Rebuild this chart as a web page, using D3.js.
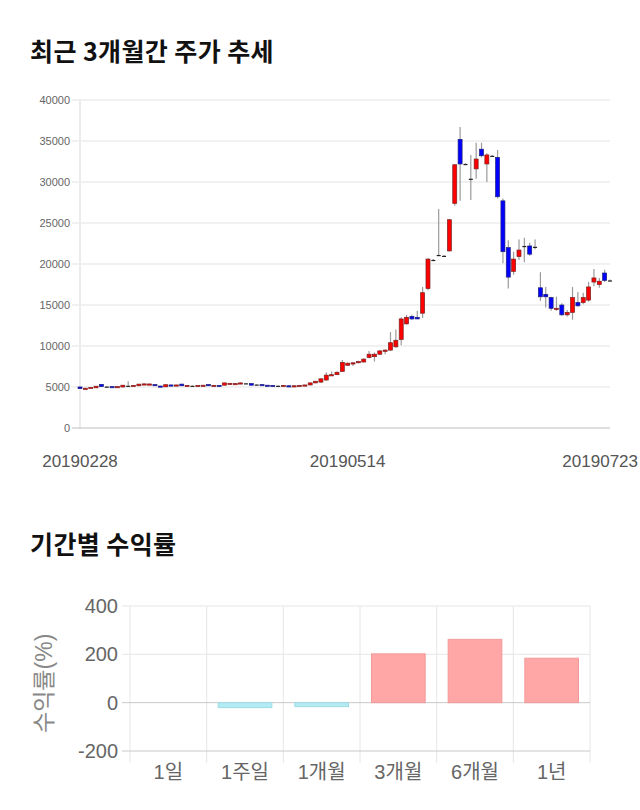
<!DOCTYPE html>
<html>
<head>
<meta charset="utf-8">
<script src="https://cdn.jsdelivr.net/npm/d3@7"></script>
<style>
  body { margin: 0; background: #fff; }
  svg { display: block; font-family: "Liberation Sans", "Noto Sans CJK KR", sans-serif; }
  .titre { font-family: "Noto Sans CJK KR", sans-serif; font-weight: bold; font-size: 25px; letter-spacing: 0.4px; fill: #111; }
</style>
</head>
<body>
<svg id="viz" width="640" height="810"></svg>
<script>
// dates de bourse (catégories)
const dates = [
  '20190228',
  '20190304','20190305','20190306','20190307','20190308','20190311','20190312','20190313','20190314','20190315',
  '20190318','20190319','20190320','20190321','20190322','20190325','20190326','20190327','20190328','20190329',
  '20190401','20190402','20190403','20190404','20190405','20190408','20190409','20190410','20190411','20190412',
  '20190415','20190416','20190417','20190418','20190419','20190422','20190423','20190424','20190425','20190426',
  '20190429','20190430',
  '20190502','20190503','20190507','20190508','20190509','20190510','20190513','20190514','20190515','20190516',
  '20190517','20190520','20190521','20190522','20190523','20190524','20190527','20190528','20190529','20190530','20190531',
  '20190603','20190604','20190605','20190607','20190610','20190611','20190612','20190613','20190614','20190617',
  '20190618','20190619','20190620','20190621','20190624','20190625','20190626','20190627','20190628',
  '20190701','20190702','20190703','20190704','20190705','20190708','20190709','20190710','20190711','20190712',
  '20190715','20190716','20190717','20190718','20190719','20190722','20190723'
]

// prix (milliers de wons)
const opens = [
  5.0, 4.78, 4.9, 4.9, 5.32, 5.05, 5.05, 5.0, 5.0, 5.15,
  5.18, 5.15, 5.35, 5.33, 5.3, 5.12, 5.02, 5.25, 5.22, 5.35,
  5.1, 5.15, 5.1, 5.18, 5.3, 5.18, 5.2, 5.22, 5.38, 5.4,
  5.42, 5.45, 5.42, 5.3, 5.3, 5.22, 5.2, 5.15, 5.18, 5.15,
  5.12, 5.15, 5.2, 5.25, 5.5, 5.6, 5.85, 6.45, 6.5, 6.9,
  7.65, 7.9, 8.0, 8.05, 8.6, 8.7, 9.0, 9.35, 9.5, 9.9,
  10.8, 12.7, 13.6, 13.5, 14.0, 17.0, 20.5, 21.1, 21.0, 21.6,
  27.4, 35.2, 32.2, 30.4, 31.6, 34.0, 32.2, 33.2, 33.0, 27.7,
  22.0, 19.1, 20.9, 22.2, 22.2, 22.1, 17.1, 16.3, 15.9, 14.5,
  15.0, 13.8, 14.1, 15.3, 15.3, 15.6, 17.8, 17.5, 18.9, 18.0
]
const highs = [
  5.05, 4.9, 4.97, 5.12, 5.38, 5.1, 5.08, 5.08, 5.25, 5.7,
  5.25, 5.38, 5.42, 5.4, 5.35, 5.15, 5.3, 5.3, 5.28, 5.4,
  5.22, 5.2, 5.22, 5.25, 5.32, 5.25, 5.25, 5.52, 5.48, 5.48,
  5.55, 5.5, 5.45, 5.35, 5.32, 5.25, 5.25, 5.2, 5.25, 5.2,
  5.2, 5.22, 5.28, 5.55, 5.75, 6.05, 6.8, 6.9, 6.9, 8.3,
  8.0, 8.05, 8.2, 8.5, 9.4, 9.2, 9.5, 9.6, 11.7, 12.0,
  13.5, 13.8, 13.8, 14.3, 17.2, 20.7, 20.6, 26.7, 21.1, 25.5,
  32.2, 36.7, 32.3, 33.3, 34.8, 34.8, 33.5, 33.3, 33.9, 28.0,
  22.9, 21.5, 23.0, 23.2, 22.6, 23.0, 19.0, 17.2, 16.0, 16.0,
  15.2, 14.4, 17.2, 16.6, 16.5, 17.8, 19.4, 18.3, 19.3, 18.1
]
const lows = [
  4.75, 4.75, 4.88, 4.88, 5.0, 5.0, 4.95, 4.98, 4.98, 5.1,
  5.15, 5.12, 5.3, 5.3, 5.12, 5.05, 5.0, 5.18, 5.18, 5.12,
  5.05, 5.1, 5.08, 5.15, 5.12, 5.15, 5.15, 5.2, 5.35, 5.38,
  5.4, 5.4, 5.2, 5.25, 5.2, 5.15, 5.15, 5.1, 5.12, 5.08,
  5.1, 5.12, 5.18, 5.22, 5.45, 5.5, 5.8, 6.4, 6.45, 6.85,
  7.55, 7.55, 7.9, 8.0, 8.5, 8.1, 8.9, 9.0, 9.4, 9.8,
  10.1, 12.6, 13.2, 13.3, 13.4, 16.8, 20.4, 21.0, 20.9, 21.5,
  27.1, 27.7, 32.1, 27.8, 30.4, 33.0, 30.0, 33.1, 28.0, 20.1,
  17.0, 18.7, 20.5, 20.2, 21.0, 21.8, 15.5, 14.7, 14.3, 14.3,
  13.7, 13.6, 13.2, 14.8, 15.1, 15.4, 17.3, 17.1, 17.8, 17.9
]
const closes = [
  4.8, 4.85, 4.95, 5.1, 5.05, 5.05, 4.98, 5.05, 5.22, 5.15,
  5.2, 5.35, 5.38, 5.37, 5.15, 5.1, 5.28, 5.22, 5.25, 5.15,
  5.2, 5.15, 5.2, 5.22, 5.15, 5.2, 5.18, 5.5, 5.45, 5.42,
  5.5, 5.45, 5.22, 5.3, 5.22, 5.2, 5.18, 5.15, 5.2, 5.12,
  5.15, 5.2, 5.25, 5.5, 5.7, 6.0, 6.45, 6.5, 6.8, 8.0,
  7.9, 7.95, 8.1, 8.4, 9.0, 9.0, 9.4, 9.5, 10.4, 10.7,
  13.3, 13.5, 13.3, 13.3, 16.5, 20.6, 20.5, 21.1, 21.0, 25.4,
  32.1, 32.2, 32.2, 30.4, 32.8, 33.2, 33.3, 33.2, 28.2, 21.5,
  18.4, 20.6, 21.7, 22.2, 21.2, 22.1, 16.0, 16.0, 14.6, 14.6,
  13.8, 14.1, 15.9, 14.9, 15.9, 17.2, 18.3, 17.9, 18.0, 18.0
]
const priceTicks = [0, 5000, 10000, 15000, 20000, 25000, 30000, 35000, 40000]
const dateTicks = ['20190228', '20190514', '20190723']

// rendements par période
const periods = ['1일', '1주일', '1개월', '3개월', '6개월', '1년']
const returns = [0, -20.5, -16.4, 202, 262, 184]
const returnTicks = [-200, 0, 200, 400]

const svg = d3.select('#viz')

//Titres
svg.append('text').attr('class', 'titre').attr('x', 30).attr('y', 61).text('최근 3개월간 주가 추세')
svg.append('text').attr('class', 'titre').attr('x', 30).attr('y', 554).text('기간별 수익률')

//---------- Graphique des chandeliers ----------
const x = d3.scalePoint().domain(dates).range([80, 610])
const y = d3.scaleLinear().domain([0, 40000]).range([428, 100])
const bodyW = 4

const gPrix = svg.append('g')

gPrix.selectAll('line.grid')
  .data(priceTicks.slice(1))
  .enter().append('line')
  .attr('x1', 72).attr('x2', 610)
  .attr('y1', d => y(d)).attr('y2', d => y(d))
  .attr('stroke', '#e3e3e3')

gPrix.append('line')
  .attr('x1', x(dates[0])).attr('x2', x(dates[0]))
  .attr('y1', y(40000)).attr('y2', y(0))
  .attr('stroke', '#ececec').attr('stroke-width', 2)

gPrix.append('line')
  .attr('x1', 72).attr('x2', 610)
  .attr('y1', y(0)).attr('y2', y(0))
  .attr('stroke', '#bdbdbd')

gPrix.selectAll('text.ytick')
  .data(priceTicks)
  .enter().append('text')
  .attr('x', 70).attr('y', d => y(d) + 4)
  .attr('text-anchor', 'end')
  .attr('font-size', 11).attr('fill', '#666')
  .text(d => d)

const candles = dates.map((d, i) => ({ date: d, o: opens[i] * 1000, h: highs[i] * 1000, l: lows[i] * 1000, c: closes[i] * 1000 }))

//Mèches
gPrix.selectAll('line.wick')
  .data(candles)
  .enter().append('line')
  .attr('x1', d => x(d.date)).attr('x2', d => x(d.date))
  .attr('y1', d => y(d.h)).attr('y2', d => y(d.l))
  .attr('stroke', '#9a9a9a').attr('stroke-width', 1.2)

//Corps
gPrix.selectAll('rect.body')
  .data(candles)
  .enter().append('rect')
  .attr('x', d => x(d.date) - bodyW / 2)
  .attr('y', d => y(Math.max(d.o, d.c)))
  .attr('width', bodyW)
  .attr('height', d => Math.max(1.2, Math.abs(y(d.o) - y(d.c))))
  .attr('fill', d => d.c > d.o ? '#ff0000' : (d.c < d.o ? '#0000ff' : '#222'))
  .attr('stroke', d => d.c > d.o ? '#7a2020' : (d.c < d.o ? '#20207a' : 'none'))
  .attr('stroke-width', 0.7)

//Dates
const dateText = svg.append('g').selectAll('text')
  .data(dateTicks)
  .enter().append('text')
  .attr('y', 467)
  .attr('font-size', 17).attr('fill', '#555')
  .text(d => d)
dateText.each(function (d) {
  const w = this.getComputedTextLength()
  const cx = Math.min(Math.max(x(d), w / 2 + 2), 638 - w / 2)
  d3.select(this).attr('x', cx - w / 2)
})

//---------- Graphique des rendements ----------
const xb = d3.scaleBand().domain(periods).range([130, 590]).paddingInner(0.3).paddingOuter(0.15)
const yb = d3.scaleLinear().domain([-200, 400]).range([751, 606])
const gRend = svg.append('g')

//Lignes verticales entre les catégories
const bounds = periods.map(p => xb(p) - xb.step() * xb.paddingInner() / 2)
bounds.push(590)
gRend.selectAll('line.vgrid')
  .data(bounds)
  .enter().append('line')
  .attr('x1', d => d).attr('x2', d => d)
  .attr('y1', yb(400)).attr('y2', yb(-200) + 12)
  .attr('stroke', '#e6e6e6')

gRend.selectAll('line.hgrid')
  .data(returnTicks)
  .enter().append('line')
  .attr('x1', 122).attr('x2', 590)
  .attr('y1', d => yb(d)).attr('y2', d => yb(d))
  .attr('stroke', d => d === 0 ? '#c8c8c8' : (d === -200 ? '#c8c8c8' : '#e6e6e6'))

gRend.selectAll('text.ytick')
  .data(returnTicks)
  .enter().append('text')
  .attr('x', 118).attr('y', d => yb(d) + 7)
  .attr('text-anchor', 'end')
  .attr('font-size', 20).attr('fill', '#666')
  .text(d => d)

gRend.append('text')
  .attr('transform', 'translate(52,' + yb(80) + ') rotate(-90)')
  .attr('text-anchor', 'middle')
  .attr('font-size', 23).attr('fill', '#888')
  .text('수익률(%)')

gRend.selectAll('rect.bar')
  .data(periods.map((p, i) => ({ p: p, v: returns[i] })))
  .enter().append('rect')
  .attr('x', d => xb(d.p))
  .attr('width', xb.bandwidth())
  .attr('y', d => yb(Math.max(0, d.v)))
  .attr('height', d => Math.abs(yb(d.v) - yb(0)))
  .attr('fill', d => d.v >= 0 ? '#ffa6a6' : '#b3ebf2')
  .attr('stroke', d => d.v >= 0 ? '#f29a9a' : '#9fdbe4')

gRend.selectAll('text.xtick')
  .data(periods)
  .enter().append('text')
  .attr('x', d => xb(d) + xb.bandwidth() / 2)
  .attr('y', 779)
  .attr('text-anchor', 'middle')
  .attr('font-size', 20).attr('fill', '#666')
  .text(d => d)
</script>
</body>
</html>
